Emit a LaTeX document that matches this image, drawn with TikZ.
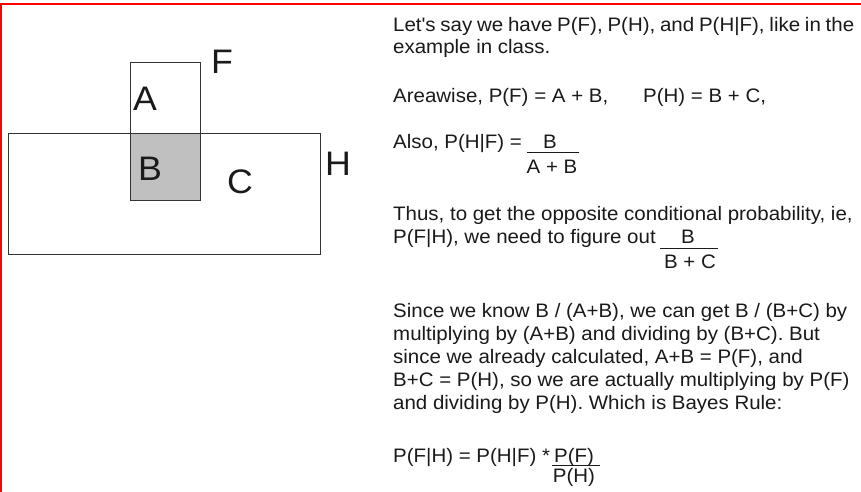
\documentclass[tikz,border=0pt]{standalone}
\usepackage{fontspec}
\setmainfont{Liberation Sans}[FakeStretch=1.05]
\definecolor{txt}{HTML}{1A1A1A}
\definecolor{boxline}{HTML}{333333}
\definecolor{greyfill}{HTML}{C0C0C0}
\begin{document}
\begin{tikzpicture}[x=1pt,y=-1pt,
  body/.style={anchor=base west,inner sep=0pt,text=txt,font=\fontsize{19.5}{22}\selectfont},
  ctr/.style={anchor=base,inner sep=0pt,text=txt,font=\fontsize{19.5}{22}\selectfont},
  big/.style={anchor=base,inner sep=0pt,text=txt,font=\fontsize{34}{40}\selectfont},
  frac/.style={draw=txt,line width=0.9pt},
  rect/.style={draw=boxline,line width=1pt}]
\useasboundingbox (0,0) rectangle (861,491);
\fill[white] (0,0) rectangle (861,491);
% red frame
\draw[red,line width=2pt] (1,492) -- (1,3.5) -- (862,3.5);
% diagram
\fill[greyfill] (130,133) rectangle (200,200);
\draw[rect] (8,133) rectangle (320,254);
\draw[rect] (130,62) rectangle (200,200);
\node[big] (F) at (222,73) {F};
\node[big] (A) at (145,110) {A};
\node[big] (B) at (150,180) {B};
\node[big] (C) at (240,193) {C};
\node[big] (H) at (338,175) {H};
% text
\node[body] (t1) at (393,31) {\spaceskip=4.8pt\relax Let\textquotesingle s say we have P(F), P(H), and P(H|F), like in the};
\node[body] (t2) at (393,53) {example in class.};
\node[body] (t3) at (393,102) {Areawise, P(F) = A + B,};
\node[body] (t3b) at (643,102) {P(H) = B + C,};
\node[body] (t4) at (393,148) {Also, P(H|F) =};
\node[ctr] (f1n) at (550,148) {B};
\draw[frac] (527,152) -- (579,152);
\node[ctr] (f1d) at (552,173) {A + B};
\node[body] (t5) at (393,220) {Thus, to get the opposite conditional probability, ie,};
\node[body] (t6) at (393,243) {P(F|H), we need to figure out};
\node[ctr] (f2n) at (688,243) {B};
\draw[frac] (660,248) -- (718,248);
\node[ctr] (f2d) at (690,268) {B + C};
\node[body] (t7) at (393,317) {Since we know B / (A+B), we can get B / (B+C) by};
\node[body] (t8) at (393,340) {multiplying by (A+B) and dividing by (B+C). But};
\node[body] (t9) at (393,363) {since we already calculated, A+B = P(F), and};
\node[body] (t10) at (393,386) {B+C = P(H), so we are actually multiplying by P(F)};
\node[body] (t11) at (393,409) {and dividing by P(H). Which is Bayes Rule:};
\node[body] (t12) at (393,462) {P(F|H) = P(H|F) *};
\node[ctr] (f3n) at (574,462) {P(F)};
\draw[frac] (552,465) -- (600,465);
\node[ctr] (f3d) at (574,482) {P(H)};
\end{tikzpicture}
\end{document}
